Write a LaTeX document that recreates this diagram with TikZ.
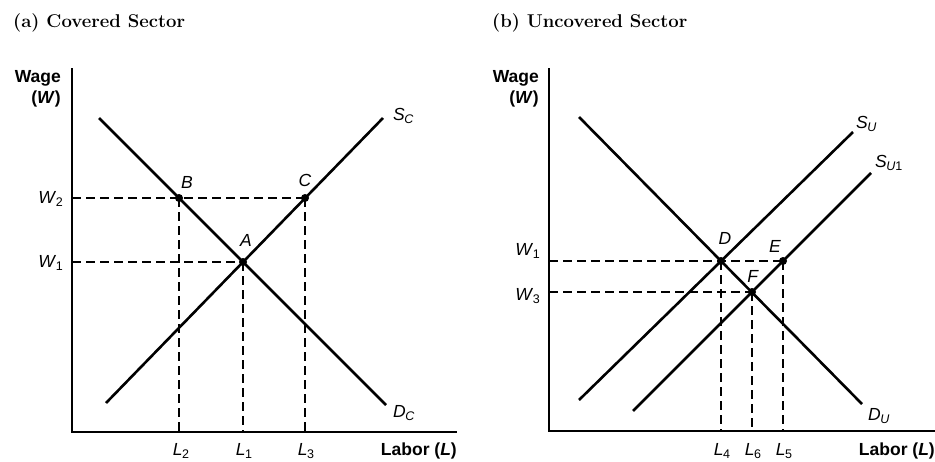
\documentclass[tikz,border=0pt]{standalone}
\usepackage{fontspec}
\setsansfont{Liberation Sans}
\usetikzlibrary{positioning}
\newcommand{\lbl}[2]{\textit{#1}\kern-0.5pt\raisebox{-0.35ex}{\fontsize{12.5}{12.5}\selectfont #2}}

\begin{document}
\begin{tikzpicture}[
	x=1pt, y=-1pt,
	axis/.style={line width=1.3pt},
	curve/.style={line width=2.6pt},
	guide/.style={line width=1.4pt, dash pattern=on 9pt off 5pt},
	dot/.style={circle, fill, inner sep=0pt, minimum size=8pt},
	lab/.style={font=\sffamily\fontsize{17.5}{20}\selectfont, inner sep=1pt},
	bold/.style={font=\sffamily\bfseries\fontsize{17.5}{21}\selectfont},
	ttl/.style={font=\bfseries\fontsize{18.5}{20}\selectfont, anchor=west, inner sep=0pt}
]
\useasboundingbox (0,0) rectangle (935,461);

% (a) covered sector
\node[ttl] (ta) at (13,23) {(a) Covered Sector};
\coordinate (oa) at (72,432);
\coordinate (ya) at (72,68);
\coordinate (xa) at (457,432);
\coordinate (dc1) at (99,118);
\coordinate (dc2) at (386,405);
\coordinate (sc1) at (106,403);
\coordinate (sc2) at (383,118);
\node[dot] (A) at (243,262) {};
\node[dot] (B) at (179,198) {};
\node[dot] (C) at (305,198) {};

\draw[axis] (ya) -- (oa) -- (xa);
\draw[guide] (oa |- C) -- (C.center);
\draw[guide] (oa |- A) -- (A.center);
\draw[guide] (B.center) -- (B |- oa);
\draw[guide] (A.center) -- (A |- oa);
\draw[guide] (C.center) -- (C |- oa);
\draw[curve] (dc1) -- (dc2);
\draw[curve] (sc1) -- (sc2);

\node[lab, bold, anchor=north east, align=right] (wa) at (62,69) {Wage\\(\textit{W})};
\node[lab, anchor=east] (w2a) at (64,199) {\lbl{W}{2}};
\node[lab, anchor=east] (w1a) at (64,263) {\lbl{W}{1}};
\node[lab] (l2) at (181,451) {\lbl{L}{2}};
\node[lab] (l1) at (244,451) {\lbl{L}{1}};
\node[lab] (l3) at (306,451) {\lbl{L}{3}};
\node[lab, bold, anchor=east] (laba) at (458,451) {Labor (\textit{L})};
\node[lab, anchor=west] (sclab) at (392,116) {\lbl{S}{\textit{C}}};
\node[lab, anchor=west] (dclab) at (392,413) {\lbl{D}{\textit{C}}};
\node[lab] (tB) at (187,182) {\textit{B}};
\node[lab] (tC) at (305,180) {\textit{C}};
\node[lab] (tA) at (246,240) {\textit{A}};

% (b) uncovered sector
\node[ttl] (tb) at (492,23) {(b) Uncovered Sector};
\coordinate (ob) at (549,431);
\coordinate (yb) at (549,68);
\coordinate (xb) at (935,431);
\coordinate (du1) at (579,117);
\coordinate (du2) at (862,404);
\coordinate (su1) at (579,400);
\coordinate (su2) at (853,132);
\coordinate (sv1) at (633,411);
\coordinate (sv2) at (871,173);
\node[dot] (D) at (721,261) {};
\node[dot] (E) at (783,261) {};
\node[dot] (F) at (752,292) {};

\draw[axis] (yb) -- (ob) -- (xb);
\draw[guide] (ob |- E) -- (E.center);
\draw[guide] (ob |- F) -- (F.center);
\draw[guide] (D.center) -- (D |- ob);
\draw[guide] (F.center) -- (F |- ob);
\draw[guide] (E.center) -- (E |- ob);
\draw[curve] (du1) -- (du2);
\draw[curve] (su1) -- (su2);
\draw[curve] (sv1) -- (sv2);

\node[lab, bold, anchor=north east, align=right] (wb) at (540,69) {Wage\\(\textit{W})};
\node[lab, anchor=east] (w1b) at (541,251) {\lbl{W}{1}};
\node[lab, anchor=east] (w3b) at (541,296) {\lbl{W}{3}};
\node[lab] (l4) at (722,451) {\lbl{L}{4}};
\node[lab] (l6) at (753,451) {\lbl{L}{6}};
\node[lab] (l5) at (784,451) {\lbl{L}{5}};
\node[lab, bold, anchor=east] (labb) at (936,451) {Labor (\textit{L})};
\node[lab, anchor=west] (sulab) at (855,124) {\lbl{S}{\textit{U}}};
\node[lab, anchor=west] (svlab) at (874,163) {\lbl{S}{\textit{U}1}};
\node[lab, anchor=west] (dulab) at (867,416) {\lbl{D}{\textit{U}}};
\node[lab] (tD) at (725,238) {\textit{D}};
\node[lab] (tE) at (775,246) {\textit{E}};
\node[lab] (tF) at (753,276) {\textit{F}};
\end{tikzpicture}
\end{document}
